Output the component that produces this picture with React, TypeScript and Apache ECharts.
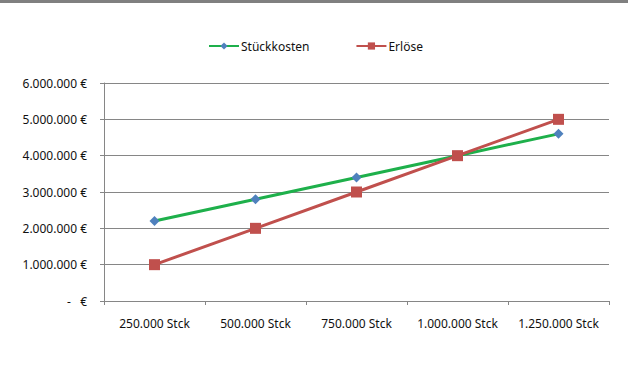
import React, { useEffect, useRef } from "react";
import * as echarts from "echarts";

const categories = ["250.000 Stck", "500.000 Stck", "750.000 Stck", "1.000.000 Stck", "1.250.000 Stck"];
const stueckkosten = [2200000, 2800000, 3400000, 4000000, 4600000];
const erloese = [1000000, 2000000, 3000000, 4000000, 5000000];
const seriesNames = ["Stückkosten", "Erlöse"];

const fmt = (v: number) => {
  if (v === 0) return "-   €";
  return String(v).replace(/\B(?=(\d{3})+(?!\d))/g, ".") + " €";
};

export default function App() {
  const ref = useRef<HTMLDivElement>(null);
  useEffect(() => {
    if (!ref.current) return;
    const chart = echarts.init(ref.current, undefined, { renderer: "svg" });
    const font = "'Noto Sans', sans-serif";
    chart.setOption({
      animation: false,
      backgroundColor: "#ffffff",
      textStyle: { fontFamily: font },
      graphic: [
        { type: "rect", shape: { x: 0, y: 0, width: 628, height: 3 }, style: { fill: "#808080" } },
      ],
      legend: {
        top: 35,
        left: 203,
        itemWidth: 30,
        itemHeight: 9,
        itemGap: 46,
        textStyle: { fontSize: 12, color: "#111", fontFamily: font, padding: [0, 0, 0, -3] },
        data: seriesNames,
      },
      grid: { left: 104, right: 19, top: 83, bottom: 65, containLabel: false },
      xAxis: {
        type: "category",
        data: categories,
        boundaryGap: true,
        axisLine: { lineStyle: { color: "#868686", width: 1 } },
        axisTick: { show: true, interval: 0, length: 4, lineStyle: { color: "#868686" } },
        axisLabel: { interval: 0, fontSize: 12, color: "#111", margin: 16, fontFamily: font },
      },
      yAxis: {
        type: "value",
        min: 0,
        max: 6000000,
        interval: 1000000,
        axisLine: { show: true, lineStyle: { color: "#868686", width: 1 } },
        axisTick: { show: true, length: 4, lineStyle: { color: "#868686" } },
        splitLine: { lineStyle: { color: "#868686", width: 1 } },
        axisLabel: { fontSize: 12, color: "#111", margin: 17, formatter: fmt, fontFamily: font },
      },
      series: [
        {
          name: seriesNames[0],
          type: "line",
          data: stueckkosten,
          symbol: "diamond",
          symbolSize: 10,
          lineStyle: { color: "#1EB04B", width: 3 },
          itemStyle: { color: "#4F81BD" },
          z: 2,
        },
        {
          name: seriesNames[1],
          type: "line",
          data: erloese,
          symbol: "rect",
          symbolSize: 11,
          lineStyle: { color: "#C0504D", width: 3 },
          itemStyle: { color: "#C0504D" },
          z: 3,
        },
      ],
    });
    return () => chart.dispose();
  }, []);
  return <div ref={ref} style={{ position: "fixed", left: 0, top: 0, width: 628, height: 366 }} />;
}
